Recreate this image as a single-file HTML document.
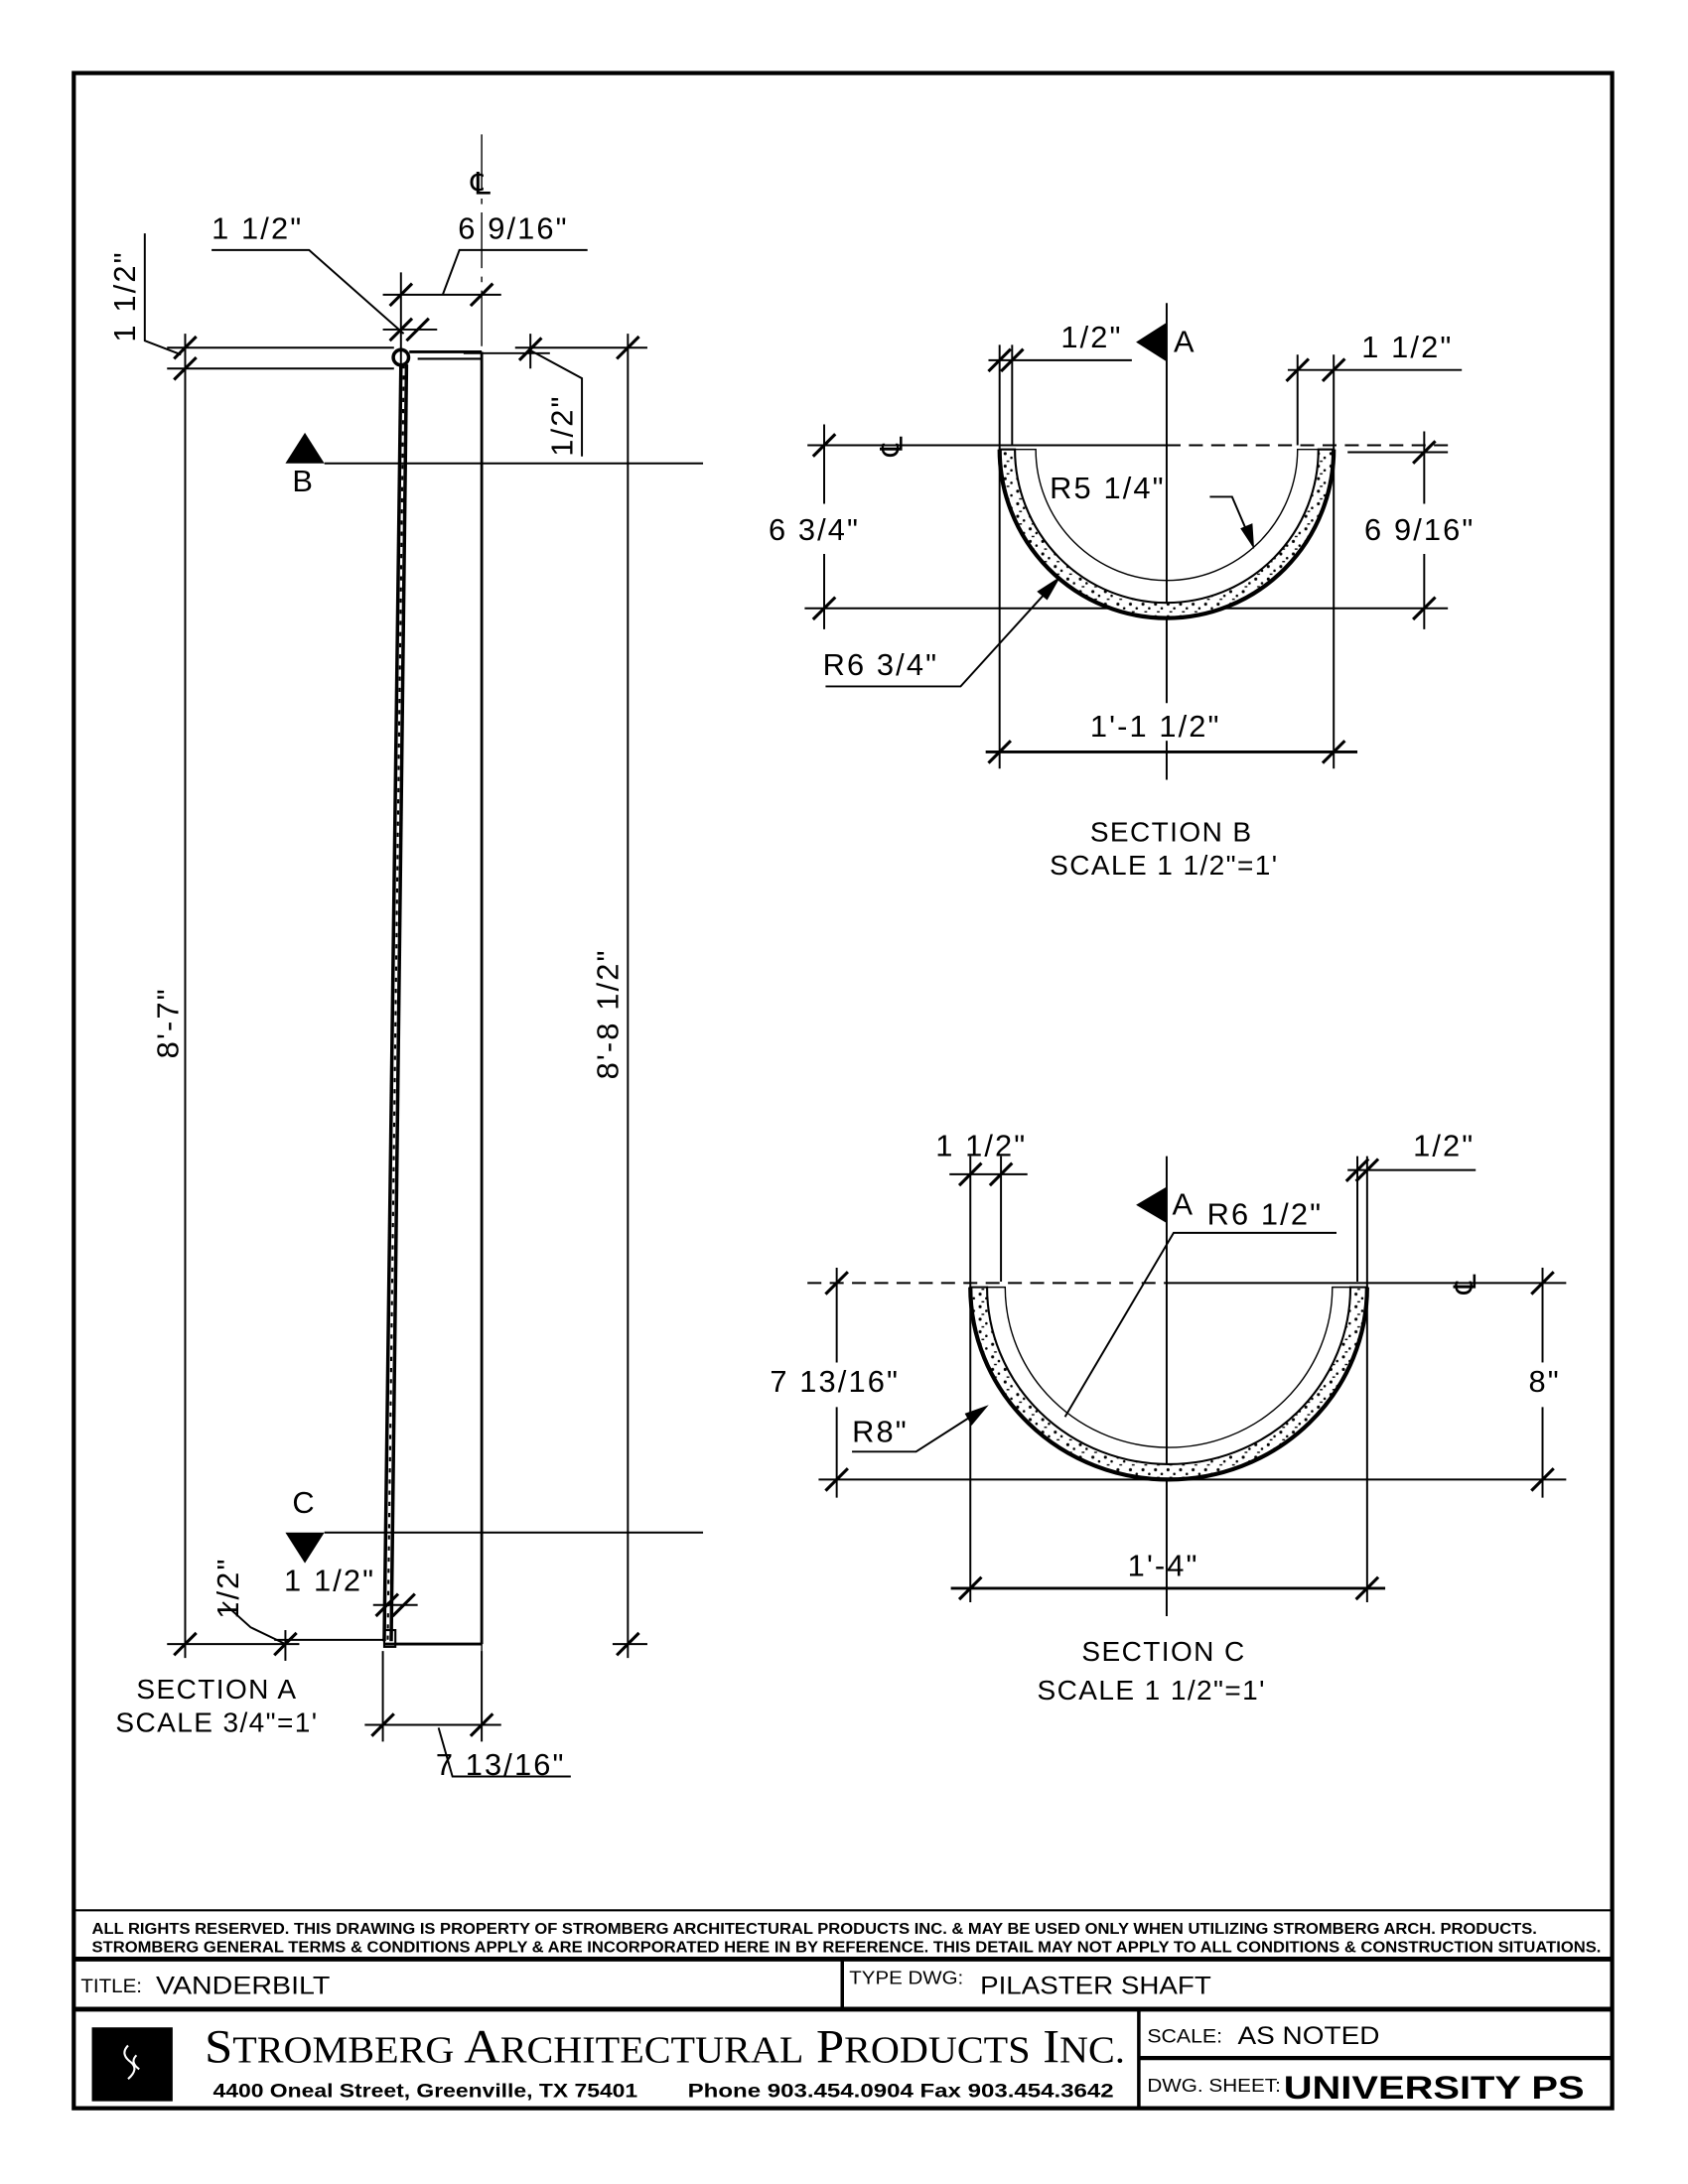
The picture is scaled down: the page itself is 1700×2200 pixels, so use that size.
<!DOCTYPE html>
<html><head><meta charset="utf-8"><style>
html,body{margin:0;padding:0;background:#fff;}
svg{display:block;}
.d{font-family:"Liberation Sans",sans-serif;font-size:22px;letter-spacing:1.5px;fill:#000;}
.s{font-family:"Liberation Sans",sans-serif;font-size:20px;letter-spacing:1px;fill:#000;}
</style></head><body>
<svg width="1700" height="2200" viewBox="0 0 1224 1584" xmlns="http://www.w3.org/2000/svg">
<defs>
<line id="t" x1="-8" y1="8" x2="8" y2="-8" stroke="#000" stroke-width="2.2"/>
<pattern id="sp" width="9" height="9" patternUnits="userSpaceOnUse">
<rect width="9" height="9" fill="#fff"/>
<circle cx="2" cy="2" r="1.1" fill="#000"/><circle cx="6.5" cy="5" r="0.9" fill="#000"/><rect x="3" y="7" width="2" height="1" fill="#000"/>
</pattern>
</defs>
<g transform="translate(0,-0.6) scale(1.0095 1.011)">
<g stroke="#000" fill="none" stroke-width="1.4">
<!-- border -->
<rect x="53" y="53" width="1105" height="1460" stroke-width="3"/>
<line x1="53" y1="1371" x2="1158" y2="1371" stroke-width="1.5"/>
<line x1="53" y1="1406" x2="1158" y2="1406" stroke-width="3.5"/>
<line x1="605" y1="1406" x2="605" y2="1442" stroke-width="2.5"/>
<line x1="53" y1="1442" x2="1158" y2="1442" stroke-width="3.5"/>
<line x1="818" y1="1442" x2="818" y2="1513" stroke-width="2.5"/>
<line x1="818" y1="1477" x2="1158" y2="1477" stroke-width="3"/>
<rect x="66" y="1455" width="58" height="53" fill="#000" stroke="none"/>
<path d="M92 1468 q-6 6 2 12 q6 5 -2 12 M98 1475 q-5 5 2 10" stroke="#fff" stroke-width="1.5"/>

<!-- SECTION A -->
<line x1="346" y1="97" x2="346" y2="1190" stroke-dasharray="40,6,4,6" stroke-width="1"/>
<line x1="346" y1="253" x2="346" y2="1180" stroke-width="2"/>
<line x1="294" y1="253" x2="346" y2="253" stroke-width="2"/>
<line x1="300" y1="258" x2="346" y2="258" stroke-width="1.5"/>
<circle cx="288" cy="257" r="5.5" stroke-width="2.5"/>
<line x1="288" y1="262" x2="276" y2="1178" stroke-width="2.5"/>
<line x1="292" y1="262" x2="281" y2="1178" stroke-width="2.5"/>
<line x1="290" y1="262" x2="278.5" y2="1178" stroke-width="1.5" stroke-dasharray="3,5"/>
<line x1="276" y1="1180" x2="346" y2="1180" stroke-width="2"/>
<rect x="276" y="1170" width="8" height="12" stroke-width="1.5"/>
<polyline points="152,180 222,180 290,240"/>
<polyline points="422,180 330,180 318,212"/>
<line x1="275" y1="212" x2="360" y2="212"/>
<line x1="288" y1="196" x2="288" y2="265"/>
<use href="#t" x="288" y="212"/><use href="#t" x="346" y="212"/>
<line x1="275" y1="237" x2="314" y2="237"/>
<use href="#t" x="288" y="237"/><use href="#t" x="300" y="237"/>
<polyline points="104,168 104,245 130,255"/>
<line x1="120" y1="250" x2="283" y2="250"/>
<line x1="120" y1="265" x2="283" y2="265"/>
<use href="#t" x="133" y="250"/><use href="#t" x="133" y="265"/>
<line x1="133" y1="240" x2="133" y2="1190"/>
<line x1="370" y1="250" x2="465" y2="250"/>
<line x1="333" y1="254" x2="395" y2="254"/>
<line x1="381" y1="240" x2="381" y2="265"/>
<use href="#t" x="381" y="251"/><use href="#t" x="451" y="250"/>
<polyline points="381,252 418,272 418,328"/>
<line x1="451" y1="240" x2="451" y2="1190"/>
<use href="#t" x="133" y="1180"/><use href="#t" x="451" y="1180"/>
<line x1="440" y1="1180" x2="465" y2="1180"/>
<line x1="120" y1="1180" x2="215" y2="1180"/>
<line x1="197" y1="1177" x2="275" y2="1177"/>
<use href="#t" x="205" y="1180"/>
<polyline points="160,1150 180,1168 205,1180"/>
<line x1="268" y1="1152" x2="300" y2="1152"/>
<use href="#t" x="278" y="1152"/><use href="#t" x="290" y="1152"/>
<line x1="205" y1="1170" x2="205" y2="1192"/>
<line x1="262" y1="1238" x2="360" y2="1238"/>
<line x1="275" y1="1185" x2="275" y2="1250"/>
<line x1="346" y1="1185" x2="346" y2="1250"/>
<use href="#t" x="275" y="1238"/><use href="#t" x="346" y="1238"/>
<polyline points="315,1240 325,1275 410,1275"/>
<polygon points="205,333 233,333 219,311" fill="#000" stroke="none"/>
<line x1="233" y1="333" x2="505" y2="333"/>
<polygon points="205,1100 233,1100 219,1122" fill="#000" stroke="none"/>
<line x1="233" y1="1100" x2="505" y2="1100"/>

<!-- SECTION B -->
<line x1="838" y1="218" x2="838" y2="505"/>
<line x1="838" y1="532" x2="838" y2="560"/>
<polygon points="838,232 838,260 816,246" fill="#000" stroke="none"/>
<line x1="710" y1="259" x2="813" y2="259"/>
<line x1="718" y1="248" x2="718" y2="320"/><line x1="727" y1="248" x2="727" y2="320"/>
<use href="#t" x="718" y="259"/><use href="#t" x="727" y="259"/>
<line x1="925" y1="266" x2="1050" y2="266"/>
<line x1="932" y1="255" x2="932" y2="320"/><line x1="958" y1="255" x2="958" y2="320"/>
<use href="#t" x="932" y="266"/><use href="#t" x="958" y="266"/>
<line x1="580" y1="320" x2="838" y2="320"/>
<line x1="838" y1="320" x2="1045" y2="320" stroke-dasharray="10,6"/>
<line x1="592" y1="305" x2="592" y2="362"/><line x1="592" y1="398" x2="592" y2="452"/>
<use href="#t" x="592" y="320"/><use href="#t" x="592" y="437"/>
<line x1="578" y1="437" x2="1040" y2="437"/>
<line x1="968" y1="325" x2="1040" y2="325"/>
<line x1="1023" y1="310" x2="1023" y2="362"/><line x1="1023" y1="398" x2="1023" y2="452"/>
<use href="#t" x="1023" y="325"/><use href="#t" x="1023" y="437"/>
<line x1="718" y1="320" x2="718" y2="552"/><line x1="958" y1="320" x2="958" y2="552"/>
<path d="M718 323 A120 121 0 0 0 958 323 L947 323 A109 110 0 0 1 729 323 Z" fill="url(#sp)" stroke-width="1.5"/>
<path d="M718 323 A120 121 0 0 0 958 323" stroke-width="3"/>
<path d="M729 323 L744 323 A94 94 0 0 0 932 323 L947 323" stroke-width="1"/>
<polyline points="869,357 885,357 900,392"/>
<polygon points="900,392 892,380 899,377" fill="#000"/>
<polyline points="593,493 690,493 760,416"/>
<polygon points="760,416 752,430 746,425" fill="#000"/>
<line x1="708" y1="540" x2="975" y2="540" stroke-width="2"/>
<use href="#t" x="718" y="540"/><use href="#t" x="958" y="540"/>

<!-- SECTION C -->
<line x1="838" y1="830" x2="838" y2="1160"/>
<polygon points="838,852 838,878 816,865" fill="#000" stroke="none"/>
<line x1="682" y1="843" x2="738" y2="843"/>
<line x1="697" y1="830" x2="697" y2="920"/><line x1="719" y1="830" x2="719" y2="920"/>
<use href="#t" x="697" y="843"/><use href="#t" x="719" y="843"/>
<line x1="968" y1="840" x2="1060" y2="840"/>
<line x1="975" y1="830" x2="975" y2="920"/><line x1="982" y1="830" x2="982" y2="920"/>
<use href="#t" x="975" y="840"/><use href="#t" x="982" y="840"/>
<polyline points="960,885 843,885 765,1017"/>
<line x1="580" y1="921" x2="838" y2="921" stroke-dasharray="10,6"/>
<line x1="838" y1="921" x2="1125" y2="921"/>
<line x1="601" y1="910" x2="601" y2="978"/><line x1="601" y1="1010" x2="601" y2="1075"/>
<use href="#t" x="601" y="921"/><use href="#t" x="601" y="1062"/>
<line x1="588" y1="1062" x2="1125" y2="1062"/>
<line x1="1108" y1="910" x2="1108" y2="978"/><line x1="1108" y1="1010" x2="1108" y2="1075"/>
<use href="#t" x="1108" y="921"/><use href="#t" x="1108" y="1062"/>
<line x1="697" y1="920" x2="697" y2="1150"/><line x1="982" y1="920" x2="982" y2="1150"/>
<path d="M697 924 A142.5 138 0 0 0 982 924 L970 924 A130.5 127 0 0 1 709 924 Z" fill="url(#sp)" stroke-width="1.5"/>
<path d="M697 924 A142.5 138 0 0 0 982 924" stroke-width="3"/>
<path d="M709 924 L722 924 A117.5 115 0 0 0 957 924 L970 924" stroke-width="1"/>
<polyline points="612,1042 658,1042 708,1010"/>
<polygon points="708,1010 694,1015 698,1022" fill="#000"/>
<line x1="683" y1="1140" x2="995" y2="1140" stroke-width="2"/>
<use href="#t" x="697" y="1140"/><use href="#t" x="982" y="1140"/>
</g>

<g>
<text class="d" x="346" y="140" text-anchor="middle" font-size="24">℄</text>
<text class="d" x="152" y="172">1 1/2"</text>
<text class="d" x="329" y="172">6 9/16"</text>
<text class="d" transform="translate(97,246) rotate(-90)">1 1/2"</text>
<text class="d" transform="translate(411,328) rotate(-90)">1/2"</text>
<text class="d" transform="translate(128,760) rotate(-90)">8'-7"</text>
<text class="d" transform="translate(444,775) rotate(-90)">8'-8 1/2"</text>
<text class="d" x="210" y="353">B</text>
<text class="d" x="210" y="1086">C</text>
<text class="d" transform="translate(171,1162) rotate(-90)">1/2"</text>
<text class="d" x="204" y="1142">1 1/2"</text>
<text class="d" x="313" y="1274">7 13/16"</text>
<text class="s" x="98" y="1219">SECTION  A</text>
<text class="s" x="83" y="1243">SCALE  3/4"=1'</text>
<text class="d" x="843" y="253" font-size="20">A</text>
<text class="d" x="762" y="250">1/2"</text>
<text class="d" x="978" y="257">1 1/2"</text>
<text class="d" transform="translate(648,320) rotate(-90)" text-anchor="middle">℄</text>
<text class="d" x="552" y="388">6  3/4"</text>
<text class="d" x="980" y="388">6  9/16"</text>
<text class="d" x="754" y="358">R5  1/4"</text>
<text class="d" x="591" y="485">R6  3/4"</text>
<text class="d" x="783" y="529">1'-1  1/2"</text>
<text class="s" x="783" y="604">SECTION  B</text>
<text class="s" x="754" y="628">SCALE  1  1/2"=1'</text>
<text class="d" x="842" y="872" font-size="20">A</text>
<text class="d" x="672" y="830">1 1/2"</text>
<text class="d" x="1015" y="830">1/2"</text>
<text class="d" x="867" y="879">R6  1/2"</text>
<text class="d" transform="translate(1060,921) rotate(-90)" text-anchor="middle">℄</text>
<text class="d" x="553" y="999">7  13/16"</text>
<text class="d" x="1098" y="999">8"</text>
<text class="d" x="612" y="1035">R8"</text>
<text class="d" x="810" y="1131">1'-4"</text>
<text class="s" x="777" y="1192">SECTION  C</text>
<text class="s" x="745" y="1220">SCALE  1  1/2"=1'</text>
<g font-family="'Liberation Sans',sans-serif" fill="#000">
<text x="66" y="1388" font-size="11" font-weight="bold" textLength="1038" lengthAdjust="spacingAndGlyphs">ALL RIGHTS RESERVED. THIS DRAWING IS PROPERTY OF STROMBERG ARCHITECTURAL PRODUCTS INC. &amp; MAY BE USED ONLY WHEN UTILIZING STROMBERG ARCH. PRODUCTS.</text>
<text x="66" y="1401" font-size="11" font-weight="bold" textLength="1084" lengthAdjust="spacingAndGlyphs">STROMBERG GENERAL TERMS &amp; CONDITIONS APPLY &amp; ARE INCORPORATED HERE IN BY REFERENCE. THIS DETAIL MAY NOT APPLY TO ALL CONDITIONS &amp; CONSTRUCTION SITUATIONS.</text>
<text x="58" y="1430" font-size="14" textLength="44" lengthAdjust="spacingAndGlyphs">TITLE:</text>
<text x="112" y="1431" font-size="18" textLength="125" lengthAdjust="spacingAndGlyphs">VANDERBILT</text>
<text x="610" y="1424" font-size="13" textLength="82" lengthAdjust="spacingAndGlyphs">TYPE DWG:</text>
<text x="704" y="1431" font-size="18" textLength="166" lengthAdjust="spacingAndGlyphs">PILASTER SHAFT</text>
<text x="147" y="1480" font-family="'Liberation Serif',serif" font-size="34" textLength="661" lengthAdjust="spacingAndGlyphs">S<tspan font-size="27">TROMBERG</tspan> A<tspan font-size="27">RCHITECTURAL</tspan> P<tspan font-size="27">RODUCTS</tspan> I<tspan font-size="27">NC.</tspan></text>
<text x="153" y="1505" font-size="14" font-weight="bold" textLength="305" lengthAdjust="spacingAndGlyphs">4400 Oneal Street, Greenville, TX  75401</text>
<text x="494" y="1505" font-size="14" font-weight="bold" textLength="306" lengthAdjust="spacingAndGlyphs">Phone 903.454.0904   Fax 903.454.3642</text>
<text x="824" y="1466" font-size="14" textLength="54" lengthAdjust="spacingAndGlyphs">SCALE:</text>
<text x="889" y="1467" font-size="18" textLength="102" lengthAdjust="spacingAndGlyphs">AS NOTED</text>
<text x="824" y="1501" font-size="13" textLength="96" lengthAdjust="spacingAndGlyphs">DWG. SHEET:</text>
<text x="922" y="1506" font-size="23" font-weight="bold" textLength="216" lengthAdjust="spacingAndGlyphs">UNIVERSITY PS</text>
</g>
</g>
</g>
</svg>
</body></html>
